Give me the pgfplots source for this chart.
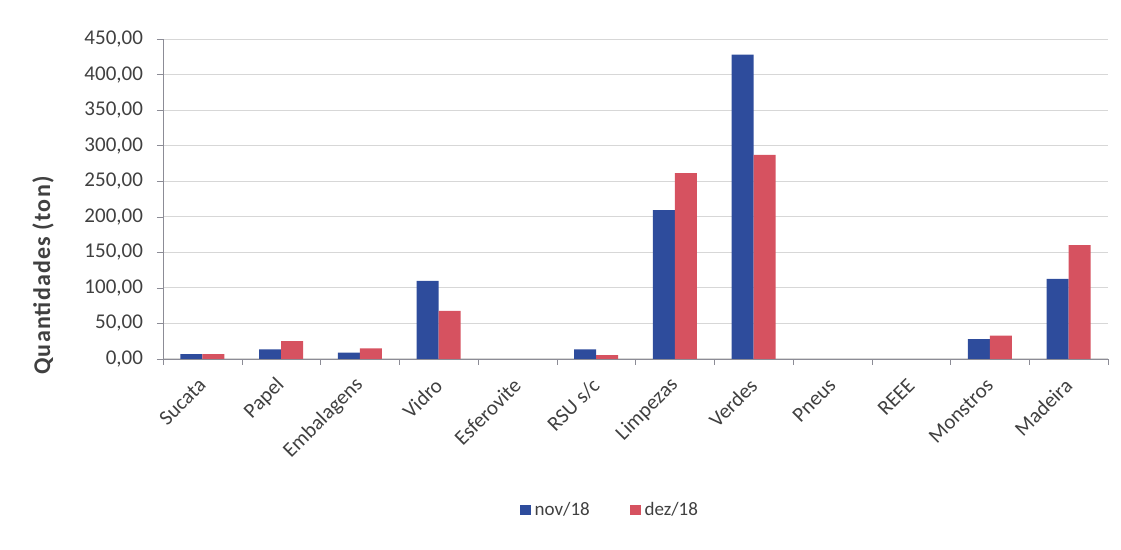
\documentclass[border=0pt]{standalone}
\usepackage{pgfplots}
\pgfplotsset{compat=1.18}
\usepackage{fontspec}
\setmainfont{Carlito}
\definecolor{barblue}{RGB}{46,76,156}
\definecolor{barred}{RGB}{214,82,96}
\definecolor{txt}{RGB}{64,64,64}
\definecolor{axisgray}{RGB}{140,140,150}
\definecolor{gridgray}{RGB}{215,215,215}
\begin{document}
\begin{tikzpicture}
\useasboundingbox (-81.5pt,-95.5pt) rectangle (479pt,179.5pt);
\begin{axis}[
  scale only axis, width=472.5pt, height=160pt,
  xmin=-0.5, xmax=11.5, ymin=0, ymax=450,
  axis x line=bottom, axis y line=left,
  axis line style={axisgray,-},
  ybar=0pt, bar width=11pt,
  xtick={-0.5,0.5,...,11.5},
  x tick label as interval,
  xticklabels={Sucata,Papel,Embalagens,Vidro,Esferovite,RSU s/c,Limpezas,Verdes,Pneus,REEE,Monstros,Madeira},
  xticklabel style={yshift=-7pt, xshift=1.5pt, rotate=45, anchor=east, font=\fontsize{10.5}{12}\selectfont, text=txt, inner sep=2pt},
  ytick={0,50,...,450},
  yticklabel style={xshift=-3.5pt, font=\fontsize{10.5}{12}\selectfont, text=txt},
  /pgf/number format/.cd, fixed, fixed zerofill, precision=2, use comma, 1000 sep={}, assume math mode=true,
  /pgfplots/.cd,
  tick align=outside, major tick length=3pt,
  tick style={axisgray},
  ymajorgrids, grid style={gridgray, line width=0.5pt},
  ylabel={\addfontfeature{LetterSpace=5}\textbf{Quantidades (ton)}},
  ylabel style={at={(rel axis cs:-0.127,0.2625)}, anchor=center, font=\fontsize{12}{14}\selectfont, text=txt},
  legend style={at={(0.474,-0.472)}, anchor=center, draw=none, legend columns=2,
    /tikz/every even column/.append style={column sep=18pt},
    font=\fontsize{9.5}{11}\selectfont, text=txt},
  legend image code/.code={\fill[#1] (-1pt,-2.7pt) rectangle (4.4pt,2.7pt);},
]
% categories with value 0 (Esferovite, Pneus, REEE) draw no bar
\addplot[fill=barblue, draw=none] coordinates {
  (0,7) (1,13.6) (2,9) (3,110) (5,13.6) (6,209.5) (7,428) (10,28) (11,112.5)};
\addplot[fill=barred, draw=none] coordinates {
  (0,7) (1,25) (2,15) (3,67.5) (5,5.6) (6,261.5) (7,287) (10,32.8) (11,160)};
\legend{nov/18, dez/18}
\end{axis}
\end{tikzpicture}
\end{document}
